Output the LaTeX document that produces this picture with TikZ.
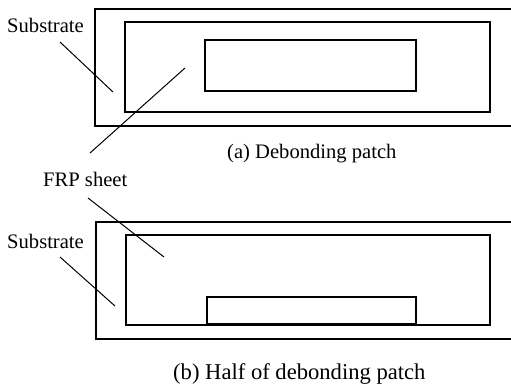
\documentclass[tikz,border=0pt]{standalone}
\usepackage{fontspec}
\setmainfont{Liberation Serif}
\begin{document}
\begin{tikzpicture}[x=1pt,y=-1pt,
  lbl/.style={inner sep=0pt,anchor=base west,font=\fontsize{20.6}{24}\selectfont},
  bigcap/.style={inner sep=0pt,anchor=base west,font=\fontsize{22.6}{26}\selectfont},
  outerbox/.style={line width=1.4pt},
  innerbox/.style={line width=1.1pt},
  leader/.style={line width=1pt}]
\useasboundingbox (0,0) rectangle (511,383);
\begin{scope}
\clip (0,0) rectangle (511,383);
% (a)
\draw[outerbox] (520,9) -- (95,9) -- (95,126) -- (520,126);
\draw[innerbox] (125,22) rectangle (490,112);
\draw[innerbox] (205,40) rectangle (416,91);
% (b)
\draw[outerbox] (520,222) -- (96,222) -- (96,339) -- (520,339);
\draw[innerbox] (126,235) rectangle (490,325);
\draw[innerbox] (207,297) rectangle (416,325);
\draw[line width=2.2pt] (207,324) -- (416,324);
\end{scope}
% labels
\node[lbl] (subA) at (7,32) {Substrate};
\node[lbl] (frp) at (43,186) {FRP sheet};
\node[lbl] (capA) at (227,158) {(a) Debonding patch};
\node[lbl] (subB) at (7,248) {Substrate};
\node[bigcap] (capB) at (173,379) {(b) Half of debonding patch};
% leader coordinates
\coordinate (sa1) at (60,42);  \coordinate (sa2) at (113,92);
\coordinate (fa1) at (90,153); \coordinate (fa2) at (185,68);
\coordinate (fb1) at (88,198); \coordinate (fb2) at (164,257);
\coordinate (sb1) at (60,257); \coordinate (sb2) at (115,306);
\draw[leader] (sa1) -- (sa2);
\draw[leader] (fa1) -- (fa2);
\draw[leader] (fb1) -- (fb2);
\draw[leader] (sb1) -- (sb2);
\end{tikzpicture}
\end{document}
